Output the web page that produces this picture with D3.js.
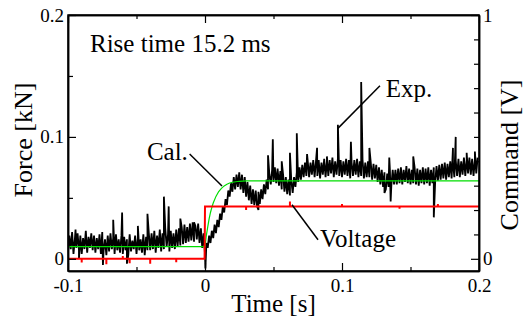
<!DOCTYPE html>
<html>
<head>
<meta charset="utf-8">
<title>Force response</title>
<script src="https://d3js.org/d3.v7.min.js"></script>
<style>
  body { margin: 0; background: #fff; }
</style>
</head>
<body>
<svg width="523" height="325"></svg>
<script>
// measured force (kN), sampled every 2 ms from -0.1 s: lower / upper edge of the noise band
const expStart = -0.1, expStep = 0.002;
const expLo = [
  .006,.008,.004,.009,.007,.004,.008,.005,.009,.007,
  .005,.008,.004,.007,.003,.006,.008,.004,.007,.005,
  .004,.007,.003,.006,.008,.004,.007,.005,.003,.007,
  .007,.008,.005,.009,.006,.008,.010,.006,.009,.008,
  .010,.011,.012,.013,.014,.015,.014,.016,.013,.009,
  .004,.009,.013,.017,.021,.026,.032,.038,.044,.051,
  .055,.057,.059,.057,.054,.051,.048,.045,.044,.043,
  .045,.049,.053,.057,.061,.063,.062,.060,.057,.055,
  .053,.052,.054,.059,.063,.065,.067,.068,.067,.069,
  .067,.068,.066,.069,.067,.068,.070,.067,.069,.068,
  .067,.069,.068,.066,.068,.069,.067,.068,.066,.067,
  .067,.065,.066,.063,.061,.059,.057,.059,.060,.061,
  .061,.062,.061,.063,.062,.061,.062,.061,.060,.062,
  .061,.062,.060,.062,.063,.064,.065,.066,.065,.067,
  .066,.067,.068,.067,.069,.068,.070,.069,.068,.070
];
const expHi = [
  .019,.022,.016,.021,.019,.017,.023,.018,.021,.019,
  .017,.020,.022,.016,.019,.021,.017,.020,.016,.019,
  .018,.016,.020,.015,.019,.017,.016,.020,.018,.021,
  .021,.023,.019,.024,.021,.025,.020,.023,.021,.024,
  .025,.026,.028,.026,.029,.030,.027,.029,.025,.021,
  .013,.019,.023,.028,.032,.037,.043,.049,.056,.062,
  .067,.069,.071,.069,.067,.063,.060,.057,.056,.055,
  .057,.061,.065,.069,.073,.075,.074,.072,.069,.067,
  .065,.064,.067,.071,.075,.077,.079,.080,.079,.081,
  .080,.081,.079,.082,.080,.081,.083,.080,.082,.081,
  .080,.082,.081,.079,.081,.082,.080,.081,.079,.080,
  .079,.078,.077,.075,.073,.071,.070,.072,.073,.073,
  .074,.075,.073,.076,.074,.073,.075,.074,.073,.075,
  .074,.075,.073,.075,.076,.077,.078,.079,.078,.080,
  .079,.081,.082,.080,.083,.081,.083,.082,.081,.083
];
// isolated spikes in the measured force [time s, force kN]
const expSpikes = [
  [-0.0945, 0.024], [-0.092, 0.000], [-0.0745, -0.005], [-0.067, 0.032], [-0.0605, 0.038],
  [-0.057, -0.004], [-0.049, 0.027], [-0.042, 0.037], [-0.030, 0.051], [-0.0265, 0.043],
  [-0.018, 0.033], [-0.008, 0.030], [0.0003, -0.008], [0.039, 0.040], [0.046, 0.085],
  [0.0495, 0.098], [0.056, 0.080], [0.062, 0.087], [0.067, 0.103], [0.0745, 0.086],
  [0.0818, 0.091], [0.089, 0.084], [0.097, 0.110], [0.1065, 0.096], [0.114, 0.145],
  [0.120, 0.091], [0.131, 0.054], [0.1345, 0.083], [0.1355, 0.047], [0.152, 0.084],
  [0.167, 0.034], [0.181, 0.091], [0.183, 0.100], [0.191, 0.087], [0.197, 0.088]
];
// calculated response (kN)
const calT = [-0.1, 0, 0.001, 0.002, 0.003, 0.004, 0.005, 0.006, 0.008, 0.010, 0.012, 0.014, 0.016, 0.018, 0.020, 0.025, 0.030, 0.040, 0.2];
const calF = [0.010, 0.010, 0.0193, 0.0262, 0.0328, 0.038, 0.0422, 0.0458, 0.0512, 0.0552, 0.0578, 0.0598, 0.0612, 0.0622, 0.0628, 0.0636, 0.0639, 0.064, 0.064];
// command voltage (V)
const voltT = [-0.1, -0.09, -0.09, -0.09, -0.072, -0.072, -0.072, -0.06, -0.06, -0.06, -0.055, -0.055, -0.055,
  -0.04, -0.04, -0.04, -0.021, -0.021, -0.021, -0.0003, 0, 0.03, 0.03, 0.03, 0.062, 0.062, 0.062,
  0.1, 0.1, 0.1, 0.142, 0.142, 0.142, 0.17, 0.17, 0.17, 0.2];
const voltV = [0, 0, -0.015, 0, 0, -0.022, 0, 0, 0.012, 0, 0, -0.018, 0,
  0, -0.02, 0, 0, -0.014, 0, 0, 0.215, 0.215, 0.2, 0.215, 0.215, 0.235, 0.215,
  0.215, 0.225, 0.215, 0.215, 0.205, 0.215, 0.215, 0.225, 0.215, 0.215];

const timeTicks = [-0.1, 0, 0.1, 0.2];
const timeMinor = [-0.05, 0.05, 0.15];
const forceTicks = [0, 0.1, 0.2];
const forceMinor = [0.05, 0.15];
const voltTicks = [0, 1];
const voltMinor = [0.1, 0.2, 0.3, 0.4, 0.5, 0.6, 0.7, 0.8, 0.9];

const svg = d3.select("svg");
const L = 68, R = 479, T = 15, B = 271;
const x = d3.scaleLinear([-0.1, 0.2], [L, R]);
const yF = d3.scaleLinear([-0.01, 0.2], [B, T]);
const yV = d3.scaleLinear([-0.05, 1], [B, T]);
const fmt = d => d === 0 ? "0" : String(d);
const serif = "'Liberation Serif'";

svg.append("defs").append("clipPath").attr("id", "plot")
  .append("rect").attr("x", L).attr("y", T).attr("width", R - L).attr("height", B - T);

// build the measured trace
const expPts = [];
expLo.forEach((lo, i) => {
  const t = expStart + i * expStep;
  expPts.push([t, lo]);
  expPts.push([t + expStep / 2, expHi[i]]);
});
expSpikes.forEach(s => expPts.push(s));
expPts.sort((a, b) => a[0] - b[0]);

const plot = svg.append("g").attr("clip-path", "url(#plot)");
plot.append("path")
  .attr("d", d3.line().x(d => x(d[0])).y(d => yF(d[1]))(expPts))
  .attr("fill", "none").attr("stroke", "#000").attr("stroke-width", 1.8);
plot.append("path")
  .attr("d", d3.line().x((d, i) => x(calT[i])).y(d => yF(d))(calF))
  .attr("fill", "none").attr("stroke", "#00dd00").attr("stroke-width", 1.2);
plot.append("path")
  .attr("d", d3.line().x((d, i) => x(voltT[i])).y(d => yV(d))(voltV))
  .attr("fill", "none").attr("stroke", "#ff0000").attr("stroke-width", 2);

// axes, ticks inward
function styleAxis(g) {
  g.selectAll("path.domain").attr("stroke-width", 1.5);
  g.selectAll(".tick line").attr("stroke-width", 1.2);
  g.selectAll("text").style("font-family", serif).style("font-size", "19px").attr("fill", "#000");
}
svg.append("g").attr("transform", `translate(0,${B})`)
  .call(d3.axisBottom(x).tickValues(timeTicks).tickFormat(fmt).tickSizeInner(-8).tickSizeOuter(0).tickPadding(8))
  .call(styleAxis);
svg.append("g").attr("transform", `translate(0,${B})`)
  .call(d3.axisBottom(x).tickValues(timeMinor).tickFormat("").tickSizeInner(-4).tickSizeOuter(0))
  .call(styleAxis);
svg.append("g").attr("transform", `translate(0,${T})`)
  .call(d3.axisTop(x).tickValues(timeTicks).tickFormat("").tickSizeInner(-8).tickSizeOuter(0))
  .call(styleAxis);
svg.append("g").attr("transform", `translate(0,${T})`)
  .call(d3.axisTop(x).tickValues(timeMinor).tickFormat("").tickSizeInner(-4).tickSizeOuter(0))
  .call(styleAxis);
svg.append("g").attr("transform", `translate(${L},0)`)
  .call(d3.axisLeft(yF).tickValues(forceTicks).tickFormat(fmt).tickSizeInner(-8).tickSizeOuter(0).tickPadding(4))
  .call(styleAxis);
svg.append("g").attr("transform", `translate(${L},0)`)
  .call(d3.axisLeft(yF).tickValues(forceMinor).tickFormat("").tickSizeInner(-5).tickSizeOuter(0))
  .call(styleAxis);
svg.append("g").attr("transform", `translate(${R},0)`)
  .call(d3.axisRight(yV).tickValues(voltTicks).tickFormat(fmt).tickSizeInner(-8).tickSizeOuter(0).tickPadding(4))
  .call(styleAxis);
svg.append("g").attr("transform", `translate(${R},0)`)
  .call(d3.axisRight(yV).tickValues(voltMinor).tickFormat("").tickSizeInner(-5).tickSizeOuter(0))
  .call(styleAxis);
// close the frame at the full plot extent
svg.append("rect").attr("x", L).attr("y", T).attr("width", R - L).attr("height", B - T)
  .attr("fill", "none").attr("stroke", "#000").attr("stroke-width", 1.5);

const labels = svg.append("g").attr("fill", "#000");
function label(size) {
  return labels.append("text").style("font-family", serif).style("font-size", size + "px");
}
// axis titles
label(25).attr("x", (L + R) / 2).attr("y", 312).attr("text-anchor", "middle").text("Time [s]");
label(26).attr("transform", `translate(32,${(T + B) / 2 - 3}) rotate(-90)`).attr("text-anchor", "middle").text("Force [kN]");
label(26).attr("transform", `translate(518,${(T + B) / 2 + 12}) rotate(-90)`).attr("text-anchor", "middle").text("Command [V]");

// annotations
label(25).attr("x", 90).attr("y", 52).text("Rise time 15.2 ms");
const lead = svg.append("g").attr("stroke", "#000").attr("stroke-width", 1.5);
lead.append("line").attr("x1", x(-0.0112)).attr("y1", yF(0.086)).attr("x2", x(0.0124)).attr("y2", yF(0.0598));
label(25).attr("x", x(-0.0125)).attr("y", yF(0.081)).attr("text-anchor", "end").text("Cal.");
lead.append("line").attr("x1", x(0.1277)).attr("y1", yF(0.142)).attr("x2", x(0.097)).attr("y2", yF(0.107));
label(25).attr("x", x(0.132)).attr("y", yF(0.133)).text("Exp.");
lead.append("line").attr("x1", x(0.0825)).attr("y1", yV(0.078)).attr("x2", x(0.0635)).attr("y2", yV(0.222));
label(25).attr("x", x(0.084)).attr("y", yV(0.05)).text("Voltage");
</script>
</body>
</html>
